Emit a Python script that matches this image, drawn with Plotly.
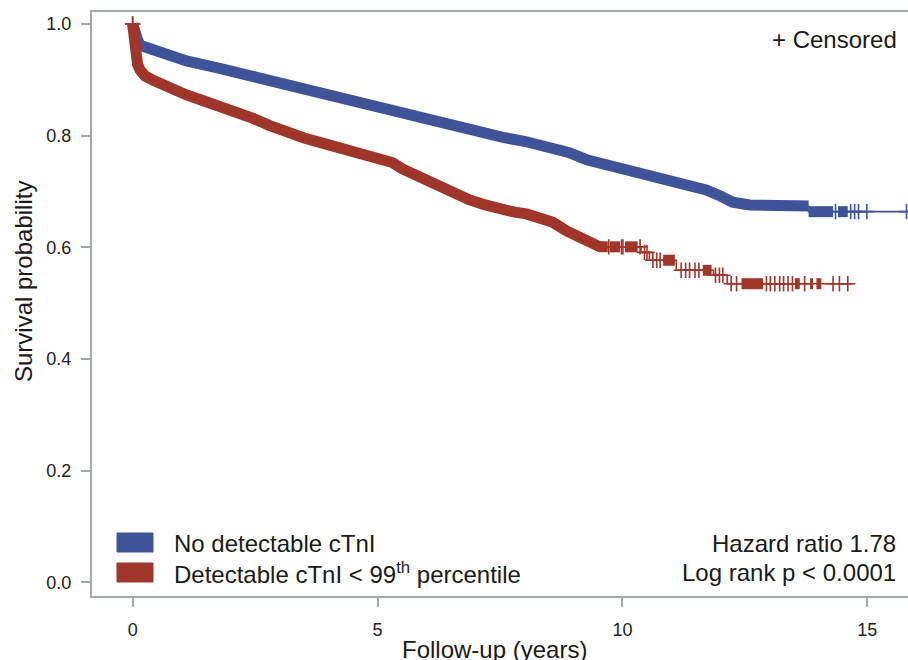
import plotly.graph_objects as go

# ---------------- data ----------------
blue_name = "No detectable cTnI"
red_name = "Detectable cTnI < 99<sup>th</sup> percentile"

blue_t = [0, 0.03, 0.1, 0.15, 0.5, 1.1, 1.8, 2.46, 3.1, 3.82, 4.5, 5.05, 5.6, 6.2,
          6.9, 7.56, 8.0, 8.45, 8.9, 9.27, 9.54, 10.15, 10.56, 11.0, 11.23, 11.71,
          12.0, 12.25, 12.6, 13.0, 13.8, 13.8, 15.8]
blue_s = [1.0, 0.985, 0.972, 0.962, 0.950, 0.934, 0.920, 0.906, 0.890, 0.873, 0.861,
          0.849, 0.837, 0.824, 0.811, 0.797, 0.790, 0.782, 0.770, 0.757, 0.751, 0.740,
          0.728, 0.720, 0.713, 0.703, 0.692, 0.681, 0.676, 0.674, 0.674, 0.664, 0.664]

red_t = [0, 0.02, 0.05, 0.1, 0.15, 0.25, 0.42, 0.7, 1.1, 1.4, 1.78, 2.1, 2.46, 2.8,
         3.14, 3.5, 3.82, 4.2, 4.5, 4.84, 5.05, 5.3, 5.52, 5.9, 6.2, 6.5, 6.88, 7.2,
         7.56, 7.8, 8.04, 8.3, 8.58, 8.85, 9.06, 9.3, 9.54, 10.38, 10.38, 10.55, 10.55,
         11.1, 11.1, 11.86, 11.86, 12.14, 12.14, 14.7]
red_s = [1.0, 0.97, 0.945, 0.928, 0.918, 0.907, 0.899, 0.887, 0.873, 0.864, 0.854,
         0.843, 0.831, 0.818, 0.806, 0.796, 0.788, 0.780, 0.773, 0.765, 0.761, 0.752,
         0.740, 0.724, 0.709, 0.697, 0.685, 0.676, 0.666, 0.663, 0.660, 0.654, 0.645,
         0.630, 0.620, 0.608, 0.601, 0.601, 0.591, 0.591, 0.577, 0.577, 0.559, 0.559,
         0.550, 0.550, 0.535, 0.535]

# stretches where the censoring marks are so dense they form a solid band
blue_dense = [(0, 13.8), (13.8, 14.3), (14.4, 14.6)]
red_dense = [(0, 9.7), (9.74, 9.95), (10.05, 10.31), (10.83, 11.07), (11.64, 11.82),
             (12.43, 12.87), (13.52, 13.62), (13.83, 13.89), (13.96, 14.06)]

# individual censoring marks where they are separable
blue_cens = [0.0, 14.35, 14.66, 14.74, 14.82, 14.99, 15.8]
red_cens = [0.0, 9.72, 9.98, 10.01, 10.36, 10.45, 10.5, 10.62, 10.7, 10.77,
            11.2, 11.29, 11.37, 11.48, 11.56, 11.9, 11.98, 12.05,
            12.22, 12.33, 12.94, 13.02, 13.11, 13.21, 13.29, 13.38, 13.47,
            13.72, 14.3, 14.43, 14.6]

x_ticks = [0, 5, 10, 15]
y_ticks = [0.0, 0.2, 0.4, 0.6, 0.8, 1.0]

BLUE = "#3f5498"
RED = "#a0352a"
AXIS = "#a3a8ae"
FONT = "Liberation Sans, Arial, sans-serif"


def level(t, ts, ss):
    v = ss[0]
    for ti, si in zip(ts, ss):
        if ti <= t:
            v = si
        else:
            break
    return v


def band(intervals, ts, ss):
    xs, ys = [], []
    for a, b in intervals:
        xs.append(a)
        ys.append(level(a, ts, ss) if a > 0 else ss[0])
        for ti, si in zip(ts, ss):
            if a < ti < b:
                xs.append(ti)
                ys.append(si)
        xs.append(b)
        ys.append(level(b - 1e-9, ts, ss))
        xs.append(None)
        ys.append(None)
    return xs, ys


fig = go.Figure()

for ts, ss, dense, cens, col in [
    (blue_t, blue_s, blue_dense, blue_cens, BLUE),
    (red_t, red_s, red_dense, red_cens, RED),
]:
    bx, by = band(dense, ts, ss)
    fig.add_trace(go.Scatter(x=bx, y=by, mode="lines",
                             line=dict(color=col, width=11),
                             showlegend=False, hoverinfo="skip"))
    fig.add_trace(go.Scatter(x=ts, y=ss, mode="lines",
                             line=dict(color=col, width=1.6),
                             showlegend=False, hoverinfo="skip"))
    fig.add_trace(go.Scatter(x=cens, y=[level(c, ts, ss) for c in cens], mode="markers",
                             marker=dict(symbol="cross-thin", size=11,
                                         line=dict(color=col, width=1.6)),
                             showlegend=False, hoverinfo="skip"))

# geometry in pixels
W, H = 908, 660
L, R, T, B = 92, 0, 12, 64
PW, PH = W - L - R, H - T - B


def px(xp):
    return (xp - L) / PW


def py(yp):
    return (H - B - yp) / PH


fig.update_layout(
    width=W, height=H,
    margin=dict(l=L, r=R, t=T, b=B),
    paper_bgcolor="white", plot_bgcolor="white",
    font=dict(family=FONT, color="#1a1a1a"),
    showlegend=False,
    xaxis=dict(range=[-0.83, 15.83], tickvals=x_ticks, ticks="outside", ticklen=9,
               tickwidth=1.5, tickcolor=AXIS, showline=True, linecolor=AXIS,
               linewidth=2, mirror=True, showgrid=False, zeroline=False,
               tickfont=dict(size=18, family=FONT, color="#222"),
               ticklabelstandoff=7),
    yaxis=dict(range=[-0.0242, 1.0215], tickvals=y_ticks, tickformat=".1f",
               ticks="outside", ticklen=9, tickwidth=1.5, tickcolor=AXIS,
               showline=True, linecolor=AXIS, linewidth=2, showgrid=False,
               zeroline=False, tickfont=dict(size=18, family=FONT, color="#222"),
               ticklabelstandoff=6),
)

ann = []
ann.append(dict(text="Follow-up (years)", x=px(494), y=py(649), xref="paper", yref="paper",
                xanchor="center", yanchor="middle", showarrow=False,
                font=dict(size=24, family=FONT, color="#1a1a1a")))
ann.append(dict(text="Survival probability", x=px(23), y=py(282), xref="paper", yref="paper",
                xanchor="center", yanchor="middle", textangle=-90, showarrow=False,
                font=dict(size=24, family=FONT, color="#1a1a1a")))
ann.append(dict(text="+ Censored", x=px(899), y=py(40), xref="paper", yref="paper",
                xanchor="right", yanchor="middle", showarrow=False,
                font=dict(size=24, family=FONT, color="#1a1a1a")))
ann.append(dict(text="Hazard ratio 1.78", x=px(898), y=py(543), xref="paper", yref="paper",
                xanchor="right", yanchor="middle", showarrow=False,
                font=dict(size=24, family=FONT, color="#1a1a1a")))
ann.append(dict(text="Log rank p < 0.0001", x=px(898), y=py(572), xref="paper", yref="paper",
                xanchor="right", yanchor="middle", showarrow=False,
                font=dict(size=24, family=FONT, color="#1a1a1a")))
ann.append(dict(text=blue_name, x=px(172), y=py(543), xref="paper", yref="paper",
                xanchor="left", yanchor="middle", showarrow=False,
                font=dict(size=24, family=FONT, color="#1a1a1a")))
ann.append(dict(text=red_name, x=px(172), y=py(573), xref="paper", yref="paper",
                xanchor="left", yanchor="middle", showarrow=False,
                font=dict(size=24, family=FONT, color="#1a1a1a")))
fig.update_layout(annotations=ann)

shapes = []
for y0, col in [(533, BLUE), (563, RED)]:
    shapes.append(dict(type="rect", xref="paper", yref="paper",
                       x0=px(117), x1=px(153), y0=py(y0 + 19), y1=py(y0),
                       fillcolor=col, line=dict(color=col, width=1)))
fig.update_layout(shapes=shapes)

fig.write_html("out.html")
